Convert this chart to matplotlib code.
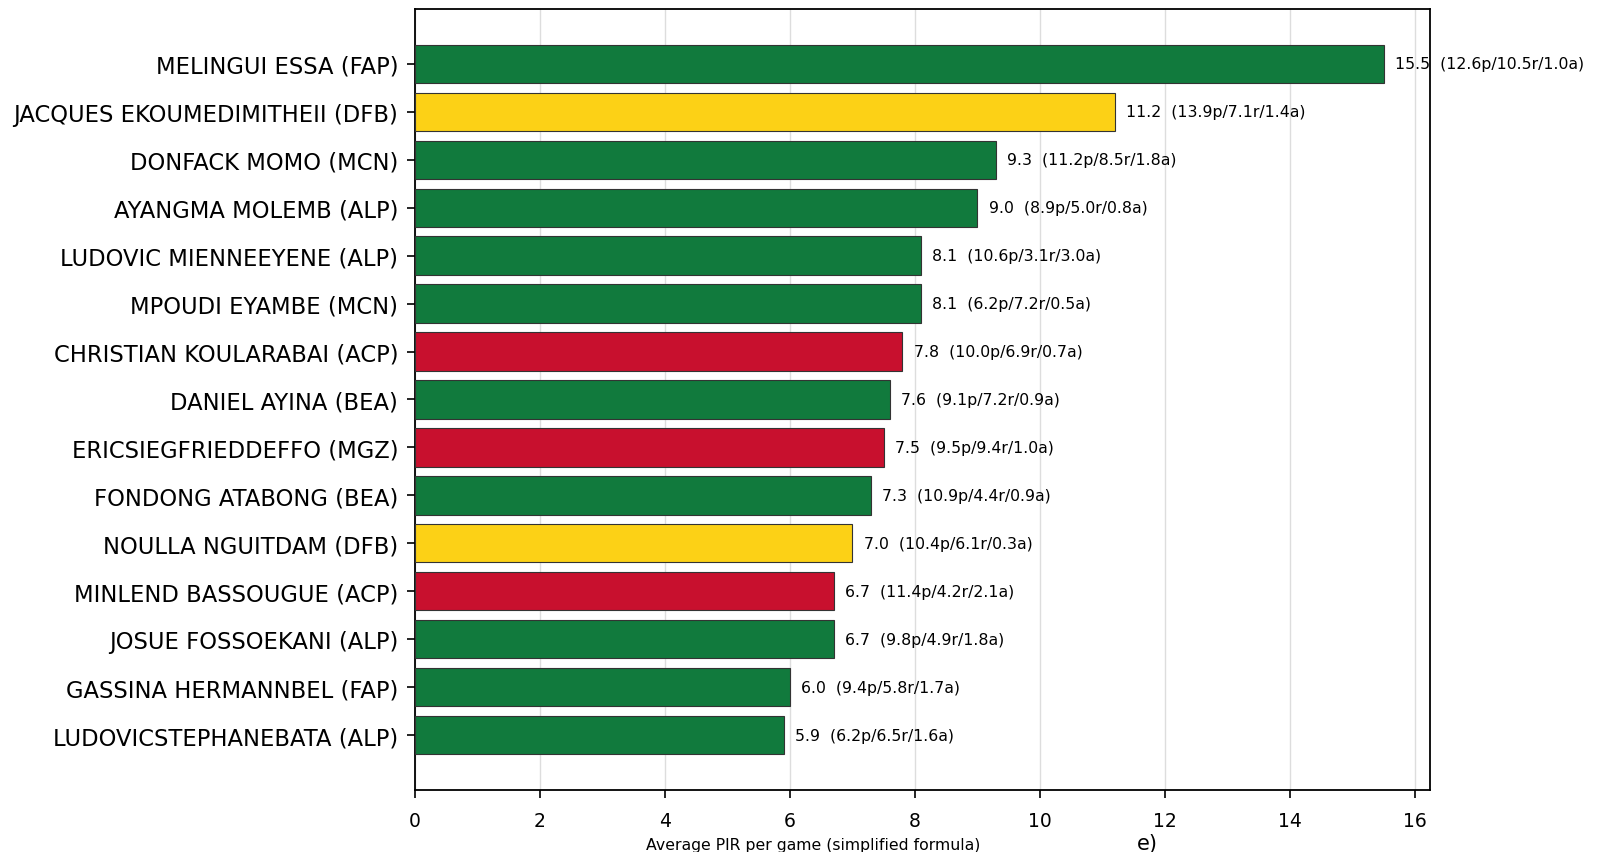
import matplotlib.pyplot as plt
import numpy as np

players=['MELINGUI ESSA (FAP)','JACQUES EKOUMEDIMITHEII (DFB)','DONFACK MOMO (MCN)',
         'AYANGMA MOLEMB (ALP)','LUDOVIC MIENNEEYENE (ALP)','MPOUDI EYAMBE (MCN)',
         'CHRISTIAN KOULARABAI (ACP)','DANIEL AYINA (BEA)','ERICSIEGFRIEDDEFFO (MGZ)',
         'FONDONG ATABONG (BEA)','NOULLA NGUITDAM (DFB)','MINLEND BASSOUGUE (ACP)',
         'JOSUE FOSSOEKANI (ALP)','GASSINA HERMANNBEL (FAP)','LUDOVICSTEPHANEBATA (ALP)']
pir=[15.5,11.2,9.3,9.0,8.1,8.1,7.8,7.6,7.5,7.3,7.0,6.7,6.7,6.0,5.9]
pts=[12.6,13.9,11.2,8.9,10.6,6.2,10.0,9.1,9.5,10.9,10.4,11.4,9.8,9.4,6.2]
reb=[10.5,7.1,8.5,5.0,3.1,7.2,6.9,7.2,9.4,4.4,6.1,4.2,4.9,5.8,6.5]
ast=[1.0,1.4,1.8,0.8,3.0,0.5,0.7,0.9,1.0,0.9,0.3,2.1,1.8,1.7,1.6]
colour_group=['g','y','g','g','g','g','r','g','r','g','y','r','g','g','g']

cmap={'g':'#117a3d','y':'#fcd116','r':'#c8102e'}
colors=[cmap[c] for c in colour_group]

fig=plt.figure(figsize=(16.14,8.53),dpi=100)
ax=fig.add_axes([0.257,0.073,0.629,0.915])

y=np.arange(len(players))
ax.barh(y,pir,height=0.8,color=colors,edgecolor='#333333',linewidth=0.8,zorder=3)
ax.invert_yaxis()
ax.set_yticks(y)
ax.set_yticklabels(players,fontsize=16.3)
ax.set_xlim(0,16.24)
ax.set_xticks(np.arange(0,17,2))
ax.tick_params(axis='x',labelsize=13.5,length=6,width=1.2,pad=9)
ax.tick_params(axis='y',length=6,width=1.2,pad=6)
ax.grid(axis='x',color='#dddddd',linewidth=1.0,zorder=0)
for s in ax.spines.values():
    s.set_linewidth(1.3)

for i in range(len(players)):
    txt='%.1f  (%.1fp/%.1fr/%.1fa)'%(pir[i],pts[i],reb[i],ast[i])
    ax.text(pir[i]+0.18,i,txt,va='center',ha='left',fontsize=11.3,zorder=4)

fig.text(0.504,0.009,'Average PIR per game (simplified formula)',fontsize=11.3,ha='center',va='center')
fig.text(0.711,0.01,'e)',fontsize=15,ha='center',va='center')

fig.savefig('out.png',dpi=100)
